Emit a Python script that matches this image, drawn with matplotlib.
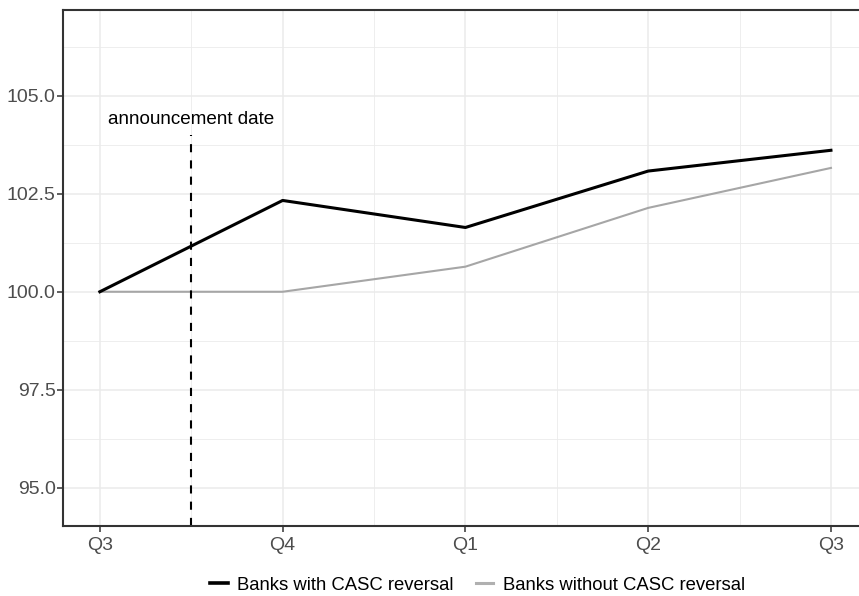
import matplotlib
matplotlib.use("Agg")
import matplotlib.pyplot as plt
from matplotlib.ticker import FixedLocator
from matplotlib.lines import Line2D

plt.rcParams['font.family'] = ['Liberation Sans', 'DejaVu Sans']

quarters = ["Q3", "Q4", "Q1", "Q2", "Q3"]
with_reversal = [100.0, 102.33, 101.64, 103.08, 103.61]
without_reversal = [100.0, 100.0, 100.64, 102.14, 103.16]
series_labels = ["Banks with CASC reversal", "Banks without CASC reversal"]
announcement_x = 0.5
announcement_top = 104.0
announcement_label_y = 104.4
y_ticks = [95.0, 97.5, 100.0, 102.5, 105.0]

W, H = 859, 596
fig = plt.figure(figsize=(W / 100, H / 100), dpi=100)
left, right, top, bottom = 63.3, 867.5, 10, 525.7
ax = fig.add_axes([left / W, 1 - bottom / H, (right - left) / W, (bottom - top) / H])

x = list(range(len(quarters)))
grid_c = "#EBEBEB"
ax.set_xlim(-0.2, 4.2)
ax.set_ylim(94.03, 107.19)
ax.xaxis.set_major_locator(FixedLocator(x))
ax.xaxis.set_minor_locator(FixedLocator([i + 0.5 for i in range(-1, 5)]))
ax.yaxis.set_major_locator(FixedLocator(y_ticks))
ax.yaxis.set_minor_locator(FixedLocator([t + 1.25 for t in [92.5] + y_ticks]))
ax.grid(True, which='major', color=grid_c, linewidth=1.1)
ax.grid(True, which='minor', color=grid_c, linewidth=0.6)
ax.set_axisbelow(True)

ax.set_xticks(x)
ax.set_xticklabels(quarters)
ax.set_yticklabels([f"{t:.1f}" for t in y_ticks])
ax.tick_params(axis='both', which='major', labelsize=14, labelcolor="#4D4D4D",
               color="#333333", length=4, width=1.1)
ax.tick_params(axis='y', which='major', pad=1.5)
ax.tick_params(axis='x', which='major', pad=4)
ax.tick_params(axis='both', which='minor', length=0)
for s in ax.spines.values():
    s.set_color("#333333")
    s.set_linewidth(1.5)

grey = "#A6A6A6"
ax.plot(x, without_reversal, color=grey, linewidth=1.5)
ax.plot(x, with_reversal, color="black", linewidth=2.2)

ax.plot([announcement_x, announcement_x], [ax.get_ylim()[0], announcement_top],
        color="black", linewidth=1.5, linestyle=(0, (3.9, 3.9)))
ax.text(announcement_x, announcement_label_y, "announcement date", ha='center', va='center',
        fontsize=13.6, color="black")

handles = [Line2D([], [], color="black", linewidth=2.6),
           Line2D([], [], color="#B0B0B0", linewidth=2.2)]
fig.legend(handles, series_labels, loc='center', bbox_to_anchor=(477.5 / W, 1 - 585 / H),
           ncol=2, frameon=False, fontsize=13.3, handlelength=0.95, handletextpad=0.5,
           columnspacing=1.2)

fig.savefig("out.png", dpi=100)
